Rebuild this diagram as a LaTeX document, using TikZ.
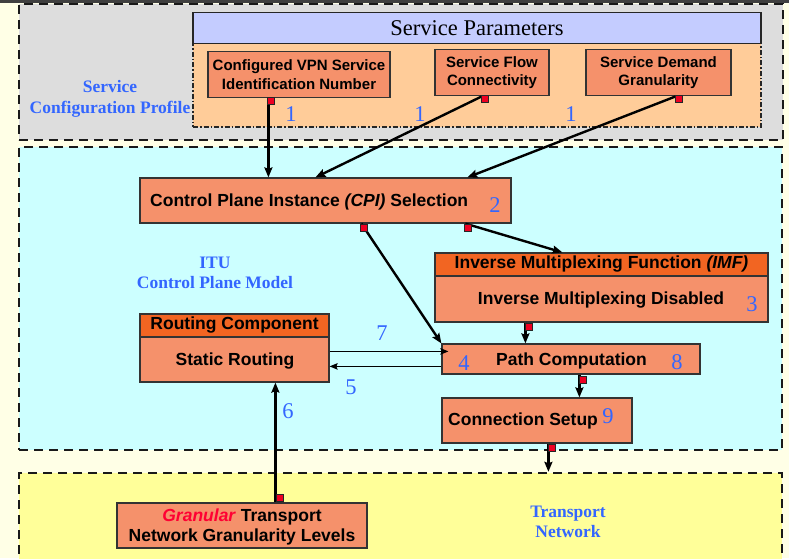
\documentclass[tikz,border=0pt]{standalone}
\usepackage{fontspec}
\setmainfont{Liberation Serif}
\newfontfamily\boxfont{Liberation Sans}
\usetikzlibrary{arrows.meta,calc}

\definecolor{bgcream}{HTML}{FFFFE6}
\definecolor{profgray}{HTML}{DDDDDD}
\definecolor{parblue}{HTML}{C4CCFF}
\definecolor{parorange}{HTML}{FFCC99}
\definecolor{cpcyan}{HTML}{CCFFFF}
\definecolor{tnyellow}{HTML}{FFFF99}
\definecolor{boxsalmon}{HTML}{F5916B}
\definecolor{hdrorange}{HTML}{F26522}
\definecolor{lblblue}{HTML}{3366FF}
\definecolor{pinred}{HTML}{EE0022}
\definecolor{granred}{HTML}{FF0033}

\tikzset{
  region/.style={draw=black!90, line width=2.4pt, dash pattern=on 9pt off 6pt,
                 inner sep=0pt, rectangle},
  fbox/.style={draw=black!80, line width=1.2pt, fill=boxsalmon, inner sep=0pt,
               font=\boxfont\bfseries\fontsize{17.5}{20}\selectfont, align=center},
  sbox/.style={fbox, font=\boxfont\bfseries\fontsize{15}{18.5}\selectfont},
  hdr/.style={fbox, fill=hdrorange},
  btext/.style={font=\boxfont\bfseries\fontsize{17.5}{20}\selectfont, inner sep=0pt},
  num/.style={text=lblblue, font=\fontsize{22.5}{22.5}\selectfont, inner sep=0pt},
  tag/.style={text=lblblue, font=\bfseries\fontsize{17.5}{20.5}\selectfont,
              align=center, inner sep=0pt},
  pin/.style={draw=black!85, fill=pinred, line width=0.8pt, minimum size=7pt,
              inner sep=0pt},
  flow/.style={line width=2.4pt, -{Stealth[length=10pt,width=8pt,inset=1.5pt]}},
  feed/.style={line width=1.2pt, -{Stealth[length=8pt,width=6.5pt,inset=1.2pt]}},
}

\begin{document}
\begin{tikzpicture}[x=1pt,y=-1pt]
  \clip (0,0) rectangle (789,558);
  \fill[bgcream] (0,0) rectangle (789,558);

  % three layers of the model
  \node[region, fill=profgray, minimum width=764, minimum height=136] (prof) at (401,72) {};
  \node[region, fill=cpcyan, minimum width=763, minimum height=303] (cpm) at (400.5,298.5) {};
  \node[region, fill=tnyellow, minimum width=763, minimum height=127] (tn) at (400.5,536.5) {};
  \fill[black!75] (0,0) rectangle (789,2.5);

  % service parameters panel
  \node[draw=black!85, fill=parorange, line width=1.3pt,
        dash pattern=on 5pt off 2pt on 1.5pt off 2pt,
        minimum width=568, minimum height=84, inner sep=0pt] (spbody) at (477,85) {};
  \node[draw=black!85, fill=parblue, line width=1.3pt, minimum width=568,
        minimum height=31, inner sep=0pt, font=\fontsize{22.5}{22.5}\selectfont] (sphead) at (477,28) {Service Parameters};

  \node[sbox, minimum width=182, minimum height=46] (vpn) at (299,74.5)
        {Configured VPN Service\\Identification Number};
  \node[sbox, minimum width=114, minimum height=46] (flw) at (492,72.5)
        {Service Flow\\Connectivity};
  \node[sbox, minimum width=145, minimum height=46] (dem) at (658.5,72.5)
        {Service Demand\\Granularity};

  % control plane components
  \node[fbox, minimum width=371, minimum height=45] (cpi) at (325.5,200.5) {};
  \node[btext, anchor=west] (cpiT) at (150,201.5) {Control Plane Instance \textit{(CPI)} Selection};

  \node[hdr, minimum width=333, minimum height=23] (imfh) at (601.5,264.5)
        {Inverse Multiplexing Function \textit{(IMF)}};
  \node[fbox, minimum width=333, minimum height=46] (imfb) at (601.5,299) {};
  \node[btext] (imfT) at (601,300.5) {Inverse Multiplexing Disabled};

  \node[hdr, minimum width=189, minimum height=23] (rhead) at (234.5,325.5) {Routing Component};
  \node[fbox, minimum width=189, minimum height=45] (rbody) at (234.5,359.5) {};
  \node[btext] (rbodyT) at (235,361) {Static Routing};

  \node[fbox, minimum width=258, minimum height=30] (path) at (571,359) {};
  \node[btext] (pathT) at (571.5,360.5) {Path Computation};

  \node[fbox, minimum width=190, minimum height=45] (conn) at (537,420.5) {};
  \node[btext, anchor=west] (connT) at (448,421) {Connection Setup};

  \node[fbox, minimum width=250, minimum height=45] (gran) at (242,525.5) {};
  \node[btext, align=center] (granT) at (242,527)
        {\textcolor{granred}{\textit{Granular}} Transport\\Network Granularity Levels};

  % layer captions
  \node[tag] (profT) at (110,99) {Service\\Configuration Profile};
  \node[tag] (cpmT) at (215,273) {ITU\\Control Plane Model};
  \node[tag] (tnT) at (568,522) {Transport\\Network};

  % connector origins
  \coordinate (o1) at ($(vpn.south west)+(61,0)$);
  \coordinate (o2) at ($(flw.south west)+(48,0)$);
  \coordinate (o3) at ($(dem.south west)+(91,0)$);
  \coordinate (o4) at ($(cpi.south west)+(222,0)$);
  \coordinate (o5) at ($(cpi.south west)+(326,0)$);
  \coordinate (o6) at ($(imfb.south west)+(91,0)$);
  \coordinate (o9) at ($(path.south west)+(138,0)$);
  \coordinate (o10) at ($(conn.south west)+(107,0)$);
  \coordinate (o11) at ($(gran.north west)+(159,0)$);

  % connectors
  \draw[flow] (o1) -- (o1 |- cpi.north);
  \draw[flow] (o2) -- ($(cpi.north west)+(176,0)$);
  \draw[flow] (o3) -- ($(cpi.north west)+(328,0)$);
  \draw[flow] (o4) -- (path.north west);
  \draw[flow] (o5) -- ($(imfh.north west)+(128,0)$);
  \draw[flow] (o6) -- (o6 |- path.north);
  \draw[feed] ($(rbody.north east)+(0,15)$) -- ($(path.north west)+(7,8)$);
  \draw[feed] ($(path.north west)+(0,23)$) -- ($(rbody.north east)+(0,30)$);
  \draw[flow] (o9) -- (o9 |- conn.north);
  \draw[flow] (o10) -- (o10 |- tn.north);
  \draw[flow] (o11) -- (o11 |- rbody.south);

  % red connector pins
  \node[pin, anchor=north west] (p1) at ($(o1)+(-1,-1.5)$) {};
  \node[pin, anchor=north west] (p2) at ($(o2)+(-1,-1.5)$) {};
  \node[pin, anchor=north west] (p3) at ($(o3)+(-1,-1.5)$) {};
  \node[pin, anchor=north west] (p4) at ($(o4)+(-1,0)$) {};
  \node[pin, anchor=north west] (p5) at ($(o5)+(-1,0)$) {};
  \node[pin, anchor=north west] (p6) at ($(o6)+(-0.5,0)$) {};
  \node[pin, anchor=north west] (p9) at ($(o9)+(0,1)$) {};
  \node[pin, anchor=north west] (p10) at ($(o10)+(0,0.5)$) {};
  \node[pin, anchor=south west] (p11) at ($(o11)+(0.5,-0.5)$) {};

  % step numbers
  \node[num] (n1a) at (291,114) {1};
  \node[num] (n1b) at (420,114) {1};
  \node[num] (n1c) at (571,114) {1};
  \node[num] (n2) at (495,205) {2};
  \node[num] (n3) at (752,304) {3};
  \node[num] (n4) at (464,363) {4};
  \node[num] (n5) at (351,387) {5};
  \node[num] (n6) at (288,411) {6};
  \node[num] (n7) at (382,333) {7};
  \node[num] (n8) at (677,362) {8};
  \node[num] (n9) at (608,416) {9};
\end{tikzpicture}
\end{document}
